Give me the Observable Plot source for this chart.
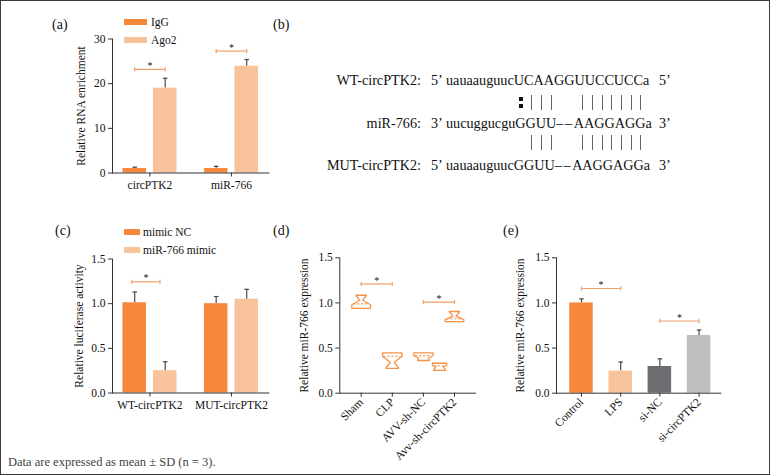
<!DOCTYPE html>
<html><head><meta charset="utf-8">
<script src="https://cdn.jsdelivr.net/npm/d3@7"></script>
<script src="https://cdn.jsdelivr.net/npm/@observablehq/plot@0.6"></script>
<style>
body{margin:0;background:#fff;}
#fig{position:relative;width:771px;height:476px;font-family:"Liberation Serif","Times New Roman",serif;color:#111;overflow:hidden;background:#fff;}
#fig svg{position:absolute;left:0;top:0;}
.abs{position:absolute;white-space:nowrap;}
.plab{font-size:14px;line-height:16px;}
.leg{font-size:11.5px;line-height:14px;}
.seq{font-size:14.2px;line-height:16px;}
.gap{letter-spacing:1.6px;}
</style></head><body><div id="fig"></div>
<script>
// ---------- DATA ----------
// (a) RIP assay
const aCats = ["circPTK2", "miR-766"];
const aSeries = ["IgG", "Ago2"];
const aIgG = [1.0, 1.0];
const aIgGErr = [0.3, 0.5];
const aAgo2 = [19.0, 23.9];
const aAgo2Err = [2.2, 1.5];
const aSig = [23.2, 27.3];
const aTicks = [0, 10, 20, 30];

// (b) binding sites (each sequence: [before gap, gap, after gap])
const bLabels = ["WT-circPTK2:", "miR-766:", "MUT-circPTK2:"];
const bStart = ["5\u2019", "3\u2019", "5\u2019"];
const bSeq = [["uauaauguucUCAAGGUUCCUCCa", "", ""], ["uucuggucguGGUU", "\u2013\u2013", "AAGGAGGa"], ["uauaauguucGGUU", "\u2013\u2013", "AAGGAGGa"]];
const bEnd = ["5\u2019", "3\u2019", "3\u2019"];
const bPairs = [":|||  |||||||", " |||  |||||||"];
const bPairOffset = 10;

// (c) luciferase
const cCats = ["WT-circPTK2", "MUT-circPTK2"];
const cSeries = ["mimic NC", "miR-766 mimic"];
const cNC = [1.01, 1.0];
const cNCErr = [0.12, 0.08];
const cMimic = [0.25, 1.05];
const cMimicErr = [0.10, 0.11];
const cSig = [1.245, null];
const cTicks = [0, 0.5, 1.0, 1.5];

// (d) in vivo miR-766 (notched box outlines)
const dCats = ["Sham", "CLP", "AVV-sh-NC", "Avv-sh-circPTK2"];
const dPos = [0, 1, 2, 2.52, 3];
const dTop = [1.085, 0.447, 0.447, 0.332, 0.905];
const dTopW = [0.17, 0.31, 0.31, 0.23, 0.17];
const dShoulder1 = [1.085, 0.41, 0.415, 0.31, 0.905];
const dWaist = [1.03, 0.34, 0.39, 0.29, 0.853];
const dWaistW = [0.05, 0.06, 0.16, 0.12, 0.05];
const dShoulder2 = [0.98, 0.285, 0.365, 0.262, 0.816];
const dBotW = [0.30, 0.20, 0.19, 0.19, 0.30];
const dBottom = [0.94, 0.275, 0.362, 0.252, 0.794];
const dMean = [0.99, 0.41, 0.415, 0.303, 0.824];
const dMeanW = [0.25, 0.28, 0.26, 0.18, 0.25];
const dSig = [{from: 0, to: 1, y: 1.21}, {from: 2, to: 3, y: 1.01}];

// (e) in vitro miR-766
const eCats = ["Control", "LPS", "si-NC", "si-circPTK2"];
const eVals = [1.0, 0.245, 0.296, 0.64];
const eErr = [0.045, 0.10, 0.085, 0.06];
const eColors = ["#F5883B", "#F8C39B", "#6D6E71", "#BDBEC0"];
const eSig = [{from: "Control", to: "LPS", y: 1.16}, {from: "si-NC", to: "si-circPTK2", y: 0.80}];

// ---------- STYLE ----------
const W = 771, H = 476;
const C_DARK = "#F5883B", C_LIGHT = "#F8C39B", C_SIG = "#F2A06A", C_ERR = "#4a4a4a", C_D = "#F5924A";
const FONT = "'Liberation Serif','Times New Roman',serif";
const fig = d3.select("#fig");
const style = {fontFamily: FONT, fontSize: "11.5px", background: "transparent", color: "#111", overflow: "visible"};
const vbar = {draw(ctx, size) { const r = Math.sqrt(size) / 2; ctx.moveTo(0, -r); ctx.lineTo(0, r); }};
const hbar = {draw(ctx, size) { const r = Math.sqrt(size) / 2; ctx.moveTo(-r, 0); ctx.lineTo(r, 0); }};
const f1 = d3.format(".1f");

function groupedPanel({cats, vals, errs, colors, sigs, ticks, fmt, label, labelOffset, box, pi, po, gap, sigInL, sigInR}) {
  const n = cats.length;
  const step = (box.right - box.left) / (n - pi + 2 * po);
  const bw = step * (1 - pi);
  const barW = (bw - gap) / 2;
  const off = (barW + gap) / 2;
  const L = cats.map((c, i) => ({cat: c, v: vals[0][i], e: errs[0][i]}));
  const R = cats.map((c, i) => ({cat: c, v: vals[1][i], e: errs[1][i]}));
  const S = cats.map((c, i) => ({cat: c, y: sigs[i]})).filter(d => d.y != null);
  return Plot.plot({
    width: W, height: H,
    marginLeft: box.left, marginRight: W - box.right, marginTop: box.top, marginBottom: H - box.bottom,
    style,
    x: {type: "band", domain: cats, paddingInner: pi, paddingOuter: po, round: false, axis: null},
    y: {domain: [ticks[0], ticks[ticks.length - 1]], axis: null},
    marks: [
      Plot.ruleX(L, {x: "cat", y1: "v", y2: d => d.v + d.e, dx: -off, stroke: C_ERR, strokeWidth: 1.2}),
      Plot.ruleX(R, {x: "cat", y1: "v", y2: d => d.v + d.e, dx: off, stroke: C_ERR, strokeWidth: 1.2}),
      Plot.dot(L, {x: "cat", y: d => d.v + d.e, dx: -off, symbol: hbar, r: 2.6, fill: "none", stroke: C_ERR, strokeWidth: 1.2}),
      Plot.dot(R, {x: "cat", y: d => d.v + d.e, dx: off, symbol: hbar, r: 2.6, fill: "none", stroke: C_ERR, strokeWidth: 1.2}),
      Plot.barY(L, {x: "cat", y: "v", fill: colors[0], insetRight: barW + gap}),
      Plot.barY(R, {x: "cat", y: "v", fill: colors[1], insetLeft: barW + gap}),
      Plot.ruleY(S, {x1: "cat", x2: "cat", y: "y", insetLeft: sigInL, insetRight: sigInR, stroke: C_SIG, strokeWidth: 1.2}),
      Plot.dot(S, {x: "cat", y: "y", dx: sigInL - bw / 2, symbol: vbar, r: 2.4, fill: "none", stroke: C_SIG, strokeWidth: 1.2}),
      Plot.dot(S, {x: "cat", y: "y", dx: bw / 2 - sigInR, symbol: vbar, r: 2.4, fill: "none", stroke: C_SIG, strokeWidth: 1.2}),
      Plot.text(S, {x: "cat", y: "y", dx: (sigInL - sigInR) / 2, text: () => "*", fontSize: 10, dy: -3.5, fill: "#111"}),
      Plot.frame({anchor: "left", stroke: "#333"}),
      Plot.frame({anchor: "bottom", stroke: "#333"}),
      Plot.axisY({ticks, tickFormat: fmt, tickSize: 4, tickPadding: 3, label, labelAnchor: "center", labelArrow: "none", labelOffset, stroke: "#333"}),
      Plot.axisX({tickSize: 4, tickPadding: 4, label: null, stroke: "#333"})
    ]
  });
}

// ---------- (a) ----------
fig.append(() => groupedPanel({
  cats: aCats, vals: [aIgG, aAgo2], errs: [aIgGErr, aAgo2Err], colors: [C_DARK, C_LIGHT], sigs: aSig,
  ticks: aTicks, fmt: d3.format("d"), label: "Relative RNA enrichment", labelOffset: 36,
  box: {left: 112, right: 268.4, top: 38.5, bottom: 172.5}, pi: 0.337, po: 0.128, gap: 7, sigInL: 11.75, sigInR: 11.75
}));

// ---------- (c) ----------
fig.append(() => groupedPanel({
  cats: cCats, vals: [cNC, cMimic], errs: [cNCErr, cMimicErr], colors: [C_DARK, C_LIGHT], sigs: cSig,
  ticks: cTicks, fmt: f1, label: "Relative luciferase activity", labelOffset: 38,
  box: {left: 112, right: 268.4, top: 258.5, bottom: 392.5}, pi: 0.337, po: 0.128, gap: 7, sigInL: 9, sigInR: 17
}));

// ---------- (d) ----------
{
  const outline = [];
  dPos.forEach((p, k) => {
    const pts = [
      [p + dTopW[k], dTop[k]], [p + dTopW[k], dShoulder1[k]], [p + dWaistW[k], dWaist[k]],
      [p + dBotW[k], dShoulder2[k]], [p + dBotW[k], dBottom[k]],
      [p - dBotW[k], dBottom[k]], [p - dBotW[k], dShoulder2[k]], [p - dWaistW[k], dWaist[k]],
      [p - dTopW[k], dShoulder1[k]], [p - dTopW[k], dTop[k]], [p + dTopW[k], dTop[k]]
    ];
    pts.forEach(([x, y]) => outline.push({k, x, y}));
  });
  const means = dPos.map((p, k) => ({x1: p - dMeanW[k], x2: p + dMeanW[k], y: dMean[k]}));
  const svg = Plot.plot({
    width: W, height: H, marginLeft: 339.3, marginRight: W - 475, marginTop: 257.3, marginBottom: H - 392.7,
    style,
    x: {domain: [-0.688, 3.675], axis: null},
    y: {domain: [0, 1.5], axis: null},
    marks: [
      Plot.line(outline, {x: "x", y: "y", z: "k", stroke: C_D, strokeWidth: 1.3, curve: "linear"}),
      Plot.ruleY(means, {x1: "x1", x2: "x2", y: "y", stroke: C_D, strokeWidth: 1, strokeDasharray: "2.5,1.5"}),
      Plot.ruleY(dSig, {x1: "from", x2: "to", y: "y", stroke: C_SIG, strokeWidth: 1.2}),
      Plot.dot(dSig, {x: "from", y: "y", symbol: vbar, r: 2.4, fill: "none", stroke: C_SIG, strokeWidth: 1.2}),
      Plot.dot(dSig, {x: "to", y: "y", symbol: vbar, r: 2.4, fill: "none", stroke: C_SIG, strokeWidth: 1.2}),
      Plot.text(dSig, {x: d => (d.from + d.to) / 2, y: "y", text: () => "*", fontSize: 10, dy: -3.5, fill: "#111"}),
      Plot.frame({anchor: "left", stroke: "#333"}),
      Plot.frame({anchor: "bottom", stroke: "#333"}),
      Plot.axisY({ticks: cTicks, tickFormat: f1, tickSize: 4, tickPadding: 3, label: "Relative miR-766 expression", labelAnchor: "center", labelArrow: "none", labelOffset: 40, stroke: "#333"}),
      Plot.axisX({ticks: d3.range(dCats.length), tickFormat: i => dCats[i], tickRotate: -45, tickSize: 4, tickPadding: 3, label: null, stroke: "#333"})
    ]
  });
  fig.append(() => svg);
}

// ---------- (e) ----------
{
  const rows = eCats.map((c, i) => ({cat: c, v: eVals[i], e: eErr[i]}));
  const svg = Plot.plot({
    width: W, height: H, marginLeft: 556, marginRight: W - 720.3, marginTop: 257.3, marginBottom: H - 392.7,
    style,
    x: {type: "band", domain: eCats, paddingInner: 0.4, paddingOuter: 0.296, align: 0.57, round: false, axis: null},
    y: {domain: [0, 1.5], axis: null},
    color: {domain: eCats, range: eColors},
    marks: [
      Plot.ruleX(rows, {x: "cat", y1: "v", y2: d => d.v + d.e, stroke: C_ERR, strokeWidth: 1.2}),
      Plot.dot(rows, {x: "cat", y: d => d.v + d.e, symbol: hbar, r: 2.6, fill: "none", stroke: C_ERR, strokeWidth: 1.2}),
      Plot.barY(rows, {x: "cat", y: "v", fill: "cat"}),
      Plot.ruleY(eSig, {x1: "from", x2: "to", y: "y", insetLeft: 11.75, insetRight: 11.75, stroke: C_SIG, strokeWidth: 1.2}),
      Plot.dot(eSig, {x: "from", y: "y", symbol: vbar, r: 2.4, fill: "none", stroke: C_SIG, strokeWidth: 1.2}),
      Plot.dot(eSig, {x: "to", y: "y", symbol: vbar, r: 2.4, fill: "none", stroke: C_SIG, strokeWidth: 1.2}),
      Plot.text(eSig, {x: "from", y: "y", dx: 19.6, text: () => "*", fontSize: 10, dy: -3.5, fill: "#111"}),
      Plot.frame({anchor: "left", stroke: "#333"}),
      Plot.frame({anchor: "bottom", stroke: "#333"}),
      Plot.axisY({ticks: cTicks, tickFormat: f1, tickSize: 4, tickPadding: 3, label: "Relative miR-766 expression", labelAnchor: "center", labelArrow: "none", labelOffset: 41, stroke: "#333"}),
      Plot.axisX({tickRotate: -45, tickSize: 4, tickPadding: 3, label: null, stroke: "#333"})
    ]
  });
  fig.append(() => svg);
}

// ---------- legends ----------
function legend(series, colors, left, tops, sw, sh, textLeft) {
  series.forEach((s, i) => {
    fig.append("div").attr("class", "abs").style("left", left + "px").style("top", (tops[i] - sh / 2) + "px")
      .style("width", sw + "px").style("height", sh + "px").style("background", colors[i]);
    fig.append("div").attr("class", "abs leg").style("left", textLeft + "px").style("top", (tops[i] - 7) + "px").text(s);
  });
}
legend(aSeries, [C_DARK, C_LIGHT], 124, [22, 40], 23, 6, 151);
legend(cSeries, [C_DARK, C_LIGHT], 124, [232, 250], 16, 6, 143);

// ---------- panel labels ----------
[["(a)", 52, 25], ["(b)", 273, 25], ["(c)", 55, 231], ["(d)", 273, 231], ["(e)", 503, 231]].forEach(([t, x, y]) => {
  fig.append("div").attr("class", "abs plab").style("left", x + "px").style("top", (y - 8) + "px").text(t);
});

// ---------- (b) sequences ----------
const rowY = [80, 123, 165];
const seqNodes = [];
bLabels.forEach((lab, r) => {
  const top = rowY[r] - 8;
  fig.append("div").attr("class", "abs seq").style("right", (W - 421) + "px").style("top", top + "px").style("text-align", "right").text(lab);
  fig.append("div").attr("class", "abs seq").style("left", "431px").style("top", top + "px").text(bStart[r]);
  const s = fig.append("div").attr("class", "abs seq").style("left", "446px").style("top", top + "px");
  s.append("span").text(bSeq[r][0]);
  if (bSeq[r][1]) s.append("span").attr("class", "gap").text(bSeq[r][1]);
  if (bSeq[r][2]) s.append("span").text(bSeq[r][2]);
  seqNodes.push(s.node());
  fig.append("div").attr("class", "abs seq").style("left", "659px").style("top", top + "px").text(bEnd[r]);
});
{
  const figBox = document.getElementById("fig").getBoundingClientRect();
  const node = seqNodes[0].firstChild.firstChild;
  const charCenter = idx => {
    const rg = document.createRange();
    rg.setStart(node, idx); rg.setEnd(node, idx + 1);
    const b = rg.getBoundingClientRect();
    return (b.left + b.right) / 2 - figBox.left;
  };
  const pairTop = [95, 135];
  bPairs.forEach((pat, r) => {
    [...pat].forEach((ch, k) => {
      const x = Math.round(charCenter(bPairOffset + k) + 2);
      if (ch === "|") {
        fig.append("div").attr("class", "abs").style("left", x + "px").style("top", pairTop[r] + "px")
          .style("width", "1px").style("height", "15px").style("background", "#666");
      } else if (ch === ":") {
        [1.5, 8.5].forEach(dy => fig.append("div").attr("class", "abs").style("left", (x - 2) + "px")
          .style("top", (pairTop[r] + dy) + "px").style("width", "4px").style("height", "4px").style("background", "#111"));
      }
    });
  });
}

// ---------- caption & border ----------
fig.append("div").attr("class", "abs").style("left", "8px").style("top", "455px").style("font-size", "12.5px").style("color", "#444")
  .text("Data are expressed as mean \u00b1 SD (n = 3).");
fig.append("div").attr("class", "abs").style("left", "0px").style("top", "0px").style("width", "770px").style("height", "475px")
  .style("box-sizing", "border-box").style("border", "1.5px solid #3a3a3a");
</script></body></html>
